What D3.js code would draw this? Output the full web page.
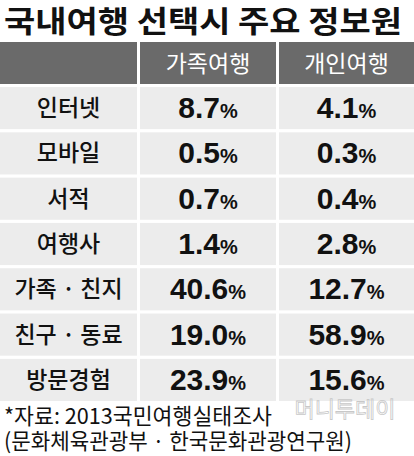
<!DOCTYPE html><html><head><meta charset="utf-8"><script src="https://cdn.jsdelivr.net/npm/d3@7"></script>
<style>body{margin:0;background:#fff}</style></head><body><svg id="c" width="414" height="456"></svg>
<script>
const title = "국내여행 선택시 주요 정보원";
const columns = ["가족여행", "개인여행"];
const categories = ["인터넷","모바일","서적","여행사","가족 · 친지","친구 · 동료","방문경험"];
const family = [8.7,0.5,0.7,1.4,40.6,19.0,23.9];
const personal = [4.1,0.3,0.4,2.8,12.7,58.9,15.6];
const source = ["*자료: 2013국민여행실태조사","(문화체육관광부 · 한국문화관광연구원)"];
const F = "'Noto Sans CJK KR', sans-serif";
const svg = d3.select("#c");
svg.append("text").attr("x",4).attr("y",32).attr("font-family",F).attr("font-weight",700)
  .attr("font-size",30).attr("fill","#111").attr("textLength",398).attr("lengthAdjust","spacingAndGlyphs").text(title);
const xs=[0,140,279], ws=[137,136,135];
const y = d3.scaleBand().domain(d3.range(categories.length)).range([87,401]).paddingInner(0.07);
[0,1,2].forEach(i=>{
  svg.append("rect").attr("x",xs[i]).attr("y",42).attr("width",ws[i]).attr("height",42).attr("fill","#6a6a6a");
  if(i>0) svg.append("text").attr("x",xs[i]+ws[i]/2).attr("y",72).attr("text-anchor","middle")
    .attr("font-family",F).attr("font-size",23).attr("fill","#fff").text(columns[i-1]);
});
categories.forEach((c,r)=>{
  const vals=[c, family[r].toFixed(1), personal[r].toFixed(1)];
  [0,1,2].forEach(i=>{
    svg.append("rect").attr("x",xs[i]).attr("y",y(r)).attr("width",ws[i]).attr("height",y.bandwidth()).attr("fill","#ececec");
    const t=svg.append("text").attr("x",xs[i]+ws[i]/2).attr("y",y(r)+y.bandwidth()/2+8).attr("text-anchor","middle")
      .attr("font-family",F).attr("fill","#111");
    if(i===0){ t.attr("font-size",23).attr("font-weight",500).text(vals[0]); }
    else { t.attr("font-family","'Liberation Sans Narrow', 'Liberation Sans', Arial, sans-serif").attr("font-weight",700).attr("font-size",30).attr("y",y(r)+y.bandwidth()/2+10);
      t.append("tspan").text(vals[i]); t.append("tspan").attr("font-size",20).text("%"); }
  });
});
svg.append("text").attr("x",345).attr("y",417).attr("text-anchor","middle").attr("font-family",F).attr("font-size",22)
  .attr("fill","none").attr("stroke","#c8c8c8").attr("stroke-width",0.8).text("머니투데이");
const sl=[268,348];
source.forEach((s,i)=>svg.append("text").attr("x",4).attr("y",424+i*25).attr("font-family",F).attr("font-size",22)
  .attr("fill","#111").attr("textLength",sl[i]).attr("lengthAdjust","spacingAndGlyphs").text(s));
</script></body></html>
